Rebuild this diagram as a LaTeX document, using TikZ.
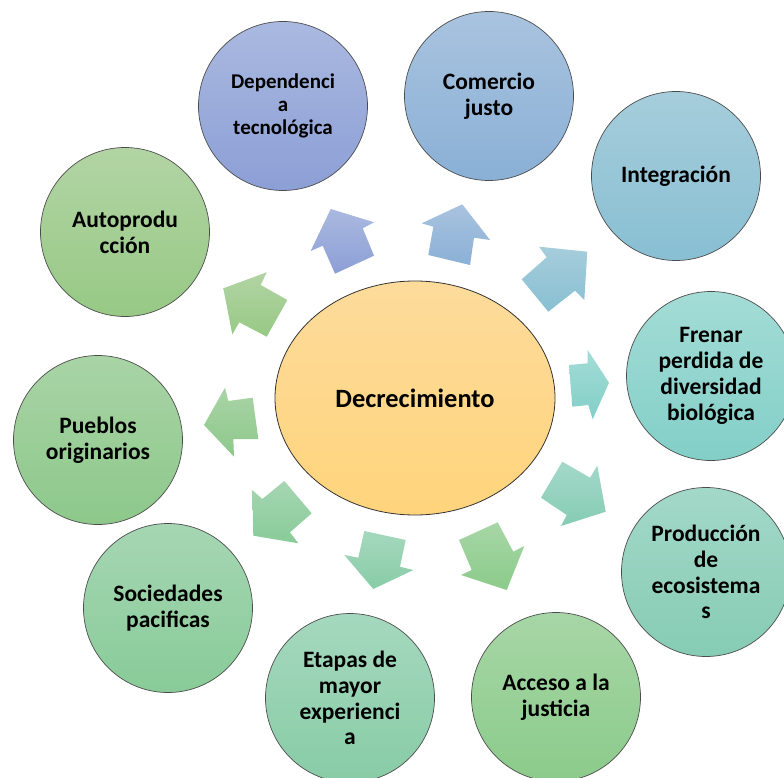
\documentclass[tikz,border=0pt]{standalone}
\usepackage{fontspec}
\setmainfont{Carlito}
\usetikzlibrary{shapes.geometric}
\definecolor{c1t}{HTML}{AAB9E0}\definecolor{c1b}{HTML}{8C9FD6}
\definecolor{c2t}{HTML}{A9C3DF}\definecolor{c2b}{HTML}{8AB0D6}
\definecolor{c3t}{HTML}{A6CDDB}\definecolor{c3b}{HTML}{88BFD3}
\definecolor{c4t}{HTML}{A4DCD6}\definecolor{c4b}{HTML}{82CFC8}
\definecolor{c5t}{HTML}{A3D8C8}\definecolor{c5b}{HTML}{86CCB4}
\definecolor{c6t}{HTML}{A7D6A6}\definecolor{c6b}{HTML}{8BCB8A}
\definecolor{c7t}{HTML}{A5D8BE}\definecolor{c7b}{HTML}{88CCA6}
\definecolor{c8t}{HTML}{A6D6B3}\definecolor{c8b}{HTML}{88CB98}
\definecolor{c9t}{HTML}{A9D4A6}\definecolor{c9b}{HTML}{8DC88A}
\definecolor{c10t}{HTML}{B2D4A4}\definecolor{c10b}{HTML}{97C985}
\definecolor{cet}{HTML}{FDDB9B}\definecolor{ceb}{HTML}{FFD47C}
\begin{document}
\begin{tikzpicture}[x=1pt,y=-1pt,
  bub/.style={circle, draw=black!70, line width=0.7pt, minimum size=169pt, inner sep=0pt,
    align=center, font=\bfseries\fontsize{23.5}{25.8}\selectfont},
  shd/.style 2 args={top color=#1, bottom color=#2}]
\useasboundingbox (0,0) rectangle (784,778);
\clip (0,0) rectangle (784,778);
\fill[white] (0,0) rectangle (784,778);
% arrows
\shade[shd={c1t}{c1b}] (330.7,209) -- (374,222.3) -- (362.7,228.3) -- (374,255.7) -- (335,273.7) -- (322.7,245.7) -- (310.7,251) -- cycle;
\shade[shd={c2t}{c2b}] (462.3,204.3) -- (490,240) -- (474,237.7) -- (470,265) -- (428.3,255) -- (433.3,226.7) -- (421.7,223.3) -- cycle;
\shade[shd={c3t}{c3b}] (587.3,251.7) -- (584.3,300) -- (575,290.7) -- (548.3,311.7) -- (521.7,279.3) -- (546.7,257.3) -- (539,246.7) -- cycle;
\shade[shd={c4t}{c4b}] (609,382.7) -- (592.7,419.3) -- (588.3,405) -- (572.3,406.7) -- (569,365) -- (587.7,363.3) -- (587.7,350) -- cycle;
\shade[shd={c5t}{c5b}] (605.7,511.7) -- (561,526) -- (566.7,515) -- (541,497.7) -- (562.3,461.7) -- (590,477.7) -- (597.3,465.7) -- cycle;
\shade[shd={c6t}{c6b}] (506.7,590) -- (461,575) -- (471.7,570) -- (459,540) -- (497.7,522.3) -- (513.3,551.7) -- (524.3,546) -- cycle;
\shade[shd={c7t}{c7b}] (373.3,589) -- (344.3,555) -- (358.3,557.7) -- (364.3,531) -- (405.7,540) -- (400,566.7) -- (413.3,570) -- cycle;
\shade[shd={c8t}{c8b}] (253.3,535.7) -- (298.3,543.3) -- (290,532.3) -- (311.7,513.3) -- (284.3,481) -- (262.3,499) -- (252.3,490) -- cycle;
\shade[shd={c9t}{c9b}] (204,425) -- (234,456.7) -- (233.3,439) -- (258.3,439) -- (252.7,397.7) -- (228.3,401) -- (225,387.7) -- cycle;
\shade[shd={c10t}{c10b}] (223.3,288.3) -- (232.3,334.3) -- (239.3,322.3) -- (266.7,336.7) -- (287.3,300) -- (260.7,285) -- (266.7,272.3) -- cycle;
% center
\node[ellipse, draw=black!80, line width=0.8pt, minimum width=280pt, minimum height=234pt, inner sep=0pt,
  shd={cet}{ceb}, font=\bfseries\fontsize{26.4}{29}\selectfont] (e) at (415,398) {Decrecimiento};
% outer circles
\node[bub, shd={c1t}{c1b}, font=\bfseries\fontsize{21}{23}\selectfont] (c1) at (283,106) {Dependenci\\a\\tecnológica};
\node[bub, shd={c2t}{c2b}] (c2) at (489,96) {Comercio\\justo};
\node[bub, shd={c3t}{c3b}] (c3) at (676,176) {Integración};
\node[bub, shd={c4t}{c4b}] (c4) at (711,376) {Frenar\\perdida de\\diversidad\\biológica};
\node[bub, shd={c5t}{c5b}] (c5) at (706,572) {Producción\\de\\ecosistema\\s};
\node[bub, shd={c6t}{c6b}] (c6) at (556,697) {Acceso a la\\justicia};
\node[bub, shd={c7t}{c7b}] (c7) at (350,698) {Etapas de\\mayor\\experienci\\a};
\node[bub, shd={c8t}{c8b}] (c8) at (168,608) {Sociedades\\pacificas};
\node[bub, shd={c9t}{c9b}] (c9) at (98,440) {Pueblos\\originarios};
\node[bub, shd={c10t}{c10b}] (c10) at (125,232) {Autoprodu\\cción};
\end{tikzpicture}
\end{document}
